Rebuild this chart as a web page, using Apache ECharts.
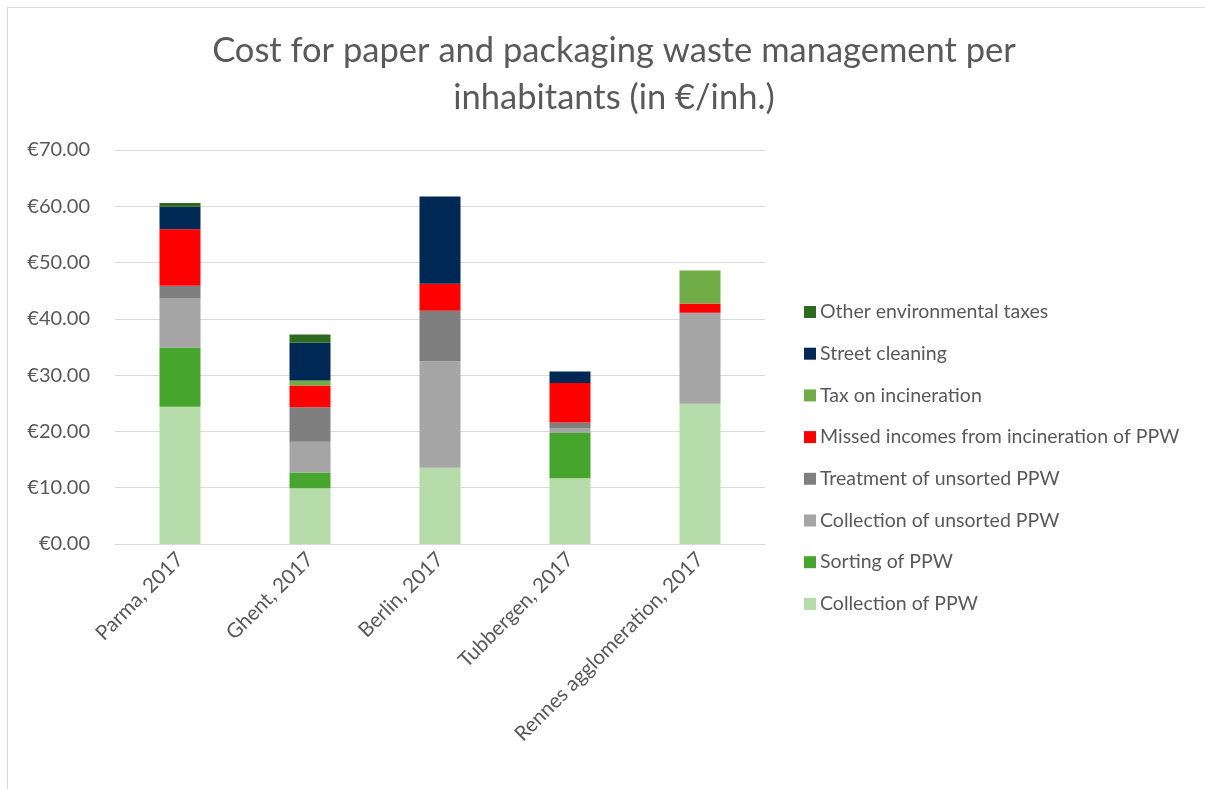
<!DOCTYPE html>
<html><head><meta charset="utf-8">
<script src="https://cdn.jsdelivr.net/npm/echarts@6/dist/echarts.min.js"></script>
<style>html,body{margin:0;padding:0;background:#fff}#c{width:1205px;height:789px}</style>
</head><body><div id="c"></div>
<script>
const categories = ["Parma, 2017","Ghent, 2017","Berlin, 2017","Tubbergen, 2017","Rennes agglomeration, 2017"];
const collectionPPW = [24.4, 9.9, 13.55, 11.7, 24.9];
const sortingPPW = [10.5, 2.8, 0, 8.0, 0];
const collectionUnsorted = [8.7, 5.45, 18.9, 0.8, 16.2];
const treatmentUnsorted = [2.3, 6.15, 9.0, 1.1, 0];
const missedIncomes = [10.0, 3.85, 4.8, 7.0, 1.65];
const taxIncineration = [0, 0.9, 0, 0, 5.85];
const streetCleaning = [4.0, 6.7, 15.5, 2.05, 0];
const otherTaxes = [0.7, 1.45, 0, 0, 0];
const yTicks = [0,10,20,30,40,50,60,70];

const seriesDefs = [
  ["Collection of PPW", collectionPPW, "#b5dba8"],
  ["Sorting of PPW", sortingPPW, "#46a52d"],
  ["Collection of unsorted PPW", collectionUnsorted, "#a5a5a5"],
  ["Treatment of unsorted PPW", treatmentUnsorted, "#7f7f7f"],
  ["Missed incomes from incineration of PPW", missedIncomes, "#ff0000"],
  ["Tax on incineration", taxIncineration, "#70ad47"],
  ["Street cleaning", streetCleaning, "#002855"],
  ["Other environmental taxes", otherTaxes, "#2d6a1f"]
];
const F = "Lato, 'Open Sans', sans-serif";
const chart = echarts.init(document.getElementById('c'));
chart.setOption({
  animation:false,
  title:{text:"Cost for paper and packaging waste management per\ninhabitants (in €/inh.)", left:609, textAlign:'center', top:22,
    textStyle:{fontFamily:F, fontSize:34.5, fontWeight:'normal', color:'#595959', lineHeight:47}},
  grid:{left:115, right:440, top:150, bottom:245},
  legend:{orient:'vertical', left:799, top:297, itemGap:21.7, itemWidth:12, itemHeight:12, icon:'rect',
    data: seriesDefs.map(s=>s[0]).reverse(),
    textStyle:{fontFamily:F, fontSize:19.5, color:'#595959', padding:[0,0,0,-1]}},
  xAxis:{type:'category', data:categories,
    axisLine:{lineStyle:{color:'#d9d9d9', width:1}}, axisTick:{show:false},
    axisLabel:{rotate:45, interval:0, fontFamily:F, fontSize:20.5, color:'#595959', margin:12}},
  yAxis:{type:'value', min:0, max:70, interval:10,
    axisLine:{show:false}, axisTick:{show:false},
    splitLine:{lineStyle:{color:'#d9d9d9', width:1}},
    axisLabel:{fontFamily:F, fontSize:20, color:'#595959', margin:25,
      formatter:v=>"€"+v.toFixed(2)}},
  series: seriesDefs.map(s=>({name:s[0], type:'bar', stack:'t', data:s[1], barWidth:41,
    itemStyle:{color:s[2]}}))
});
</script>
<div style="position:absolute;left:7px;top:7px;width:1197px;height:781px;border-left:1px solid #d9d9d9;border-top:1px solid #d9d9d9;pointer-events:none"></div>
</body></html>
